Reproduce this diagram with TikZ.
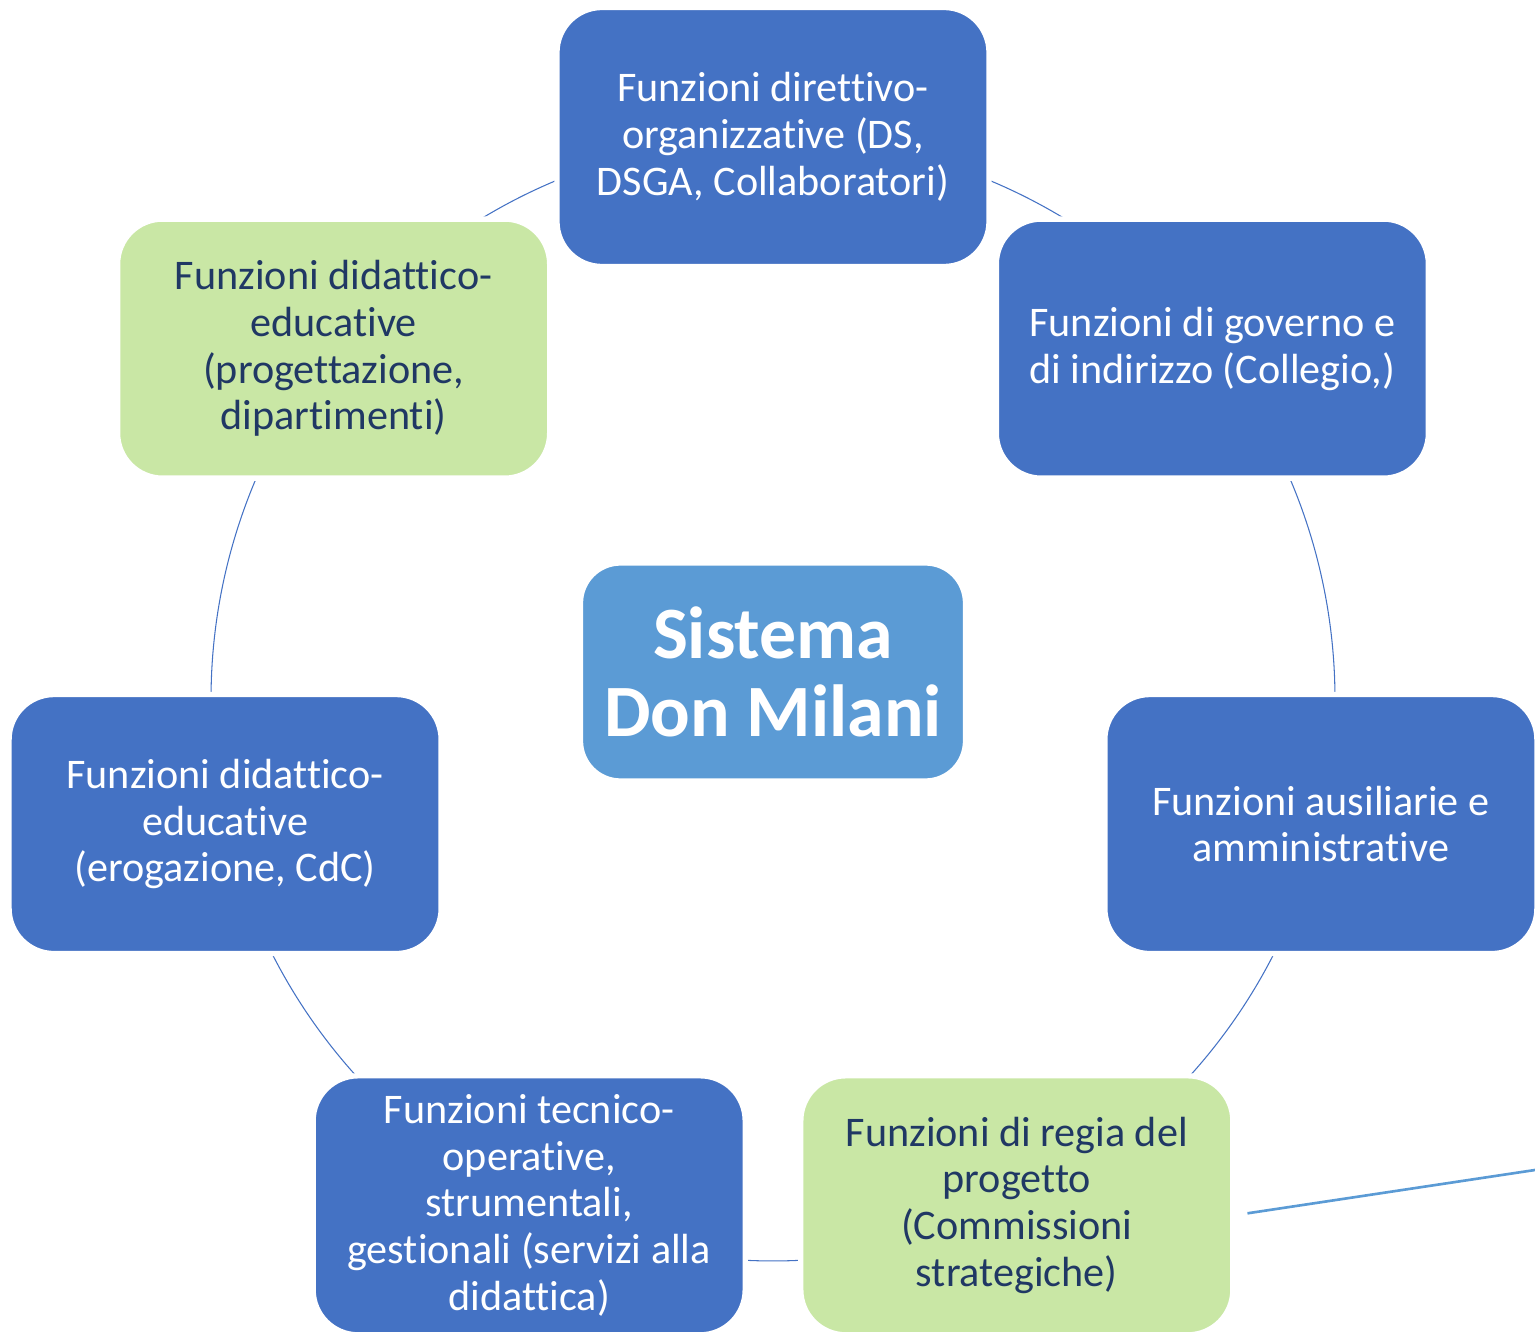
\documentclass[tikz,border=0pt]{standalone}
\usepackage{fontspec}
\setmainfont[Ligatures=NoCommon]{Carlito}
\usetikzlibrary{backgrounds}
\definecolor{funcblue}{HTML}{4472C4}
\definecolor{funcgreen}{HTML}{C9E7A5}
\definecolor{hubblue}{HTML}{5B9BD5}
\definecolor{navytext}{HTML}{203864}
\begin{document}
\begin{tikzpicture}[
  box/.style={rounded corners=.9cm, draw=white, line width=3pt, minimum width=8.64cm,
    minimum height=5.18cm, inner sep=0pt, align=center, font=\fontsize{24}{26.6}\selectfont},
  bluebox/.style={box, fill=funcblue, text=white},
  greenbox/.style={box, fill=funcgreen, text=navytext},
  ring/.style={draw=funcblue, line width=.6pt},
  stray/.style={draw=hubblue, line width=1.5pt}]
\useasboundingbox (0,0) rectangle (30.7,-26.68);
%\draw (0,0) to[grid with coordinates] (30.7,-26.68);
\coordinate (hub) at (15.46,-13.98);
\node[box, fill=hubblue, text=white, minimum width=7.7cm, minimum height=4.36cm, rounded corners=.8cm,
  font=\bfseries\fontsize{42}{44.4}\selectfont] (sys) at (15.46,-13.44) {Sistema\\Don Milani};
\node[bluebox] (dir) at ([shift={(90:11.24)}]hub) {Funzioni direttivo-\\organizzative (DS,\\DSGA, Collaboratori)};
\node[bluebox] (gov) at ([shift={(38.571:11.24)}]hub) {Funzioni di governo e\\di indirizzo (Collegio,)};
\node[bluebox] (aus) at ([shift={(-12.857:11.24)}]hub) {Funzioni ausiliarie e\\amministrative};
\node[greenbox] (reg) at ([shift={(-64.286:11.24)}]hub) {Funzioni di regia del\\progetto\\(Commissioni\\strategiche)};
\node[bluebox] (tec) at ([shift={(-115.714:11.24)}]hub) {Funzioni tecnico-\\operative,\\strumentali,\\gestionali (servizi alla\\didattica)};
\node[bluebox] (ero) at ([shift={(-167.143:11.24)}]hub) {Funzioni didattico-\\educative\\(erogazione, CdC)};
\node[greenbox] (pro) at ([shift={(141.429:11.24)}]hub) {Funzioni didattico-\\educative\\(progettazione,\\dipartimenti)};
\begin{pgfonlayer}{background}
\draw[ring] (dir.center) arc[start angle=90, end angle=38.571, radius=11.24cm];
\draw[ring] (gov.center) arc[start angle=38.571, end angle=-12.857, radius=11.24cm];
\draw[ring] (aus.center) arc[start angle=-12.857, end angle=-64.286, radius=11.24cm];
\draw[ring] (reg.center) arc[start angle=-64.286, end angle=-115.714, radius=11.24cm];
\draw[ring] (tec.center) arc[start angle=-115.714, end angle=-167.143, radius=11.24cm];
\draw[ring] (ero.center) arc[start angle=-167.143, end angle=-218.571, radius=11.24cm];
\draw[ring] (pro.center) arc[start angle=141.429, end angle=90, radius=11.24cm];
\end{pgfonlayer}
\coordinate (edge) at (30.7,-23.4);
\draw[stray] ([shift={(.24,-.16)}]reg.east) -- (edge);
\end{tikzpicture}
\end{document}
